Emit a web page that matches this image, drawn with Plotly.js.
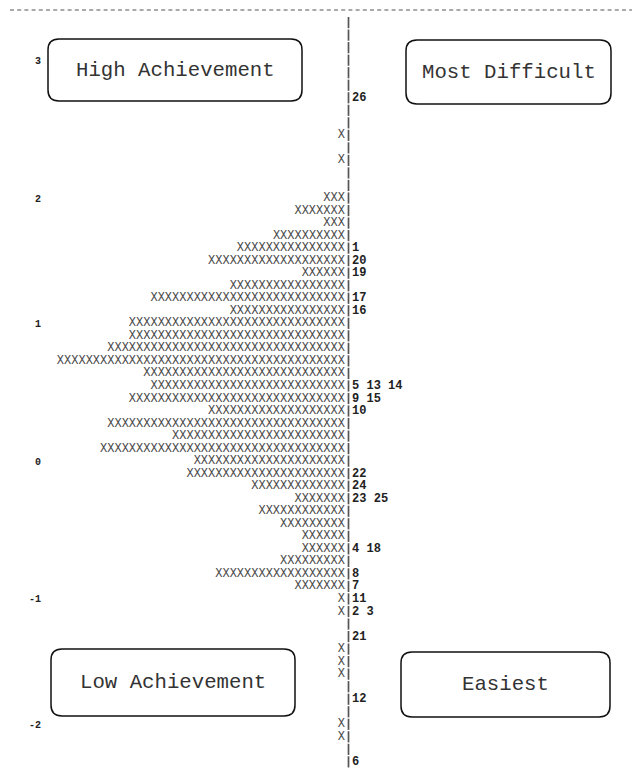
<!DOCTYPE html>
<html><head><meta charset="utf-8">
<script src="https://cdn.plot.ly/plotly-3.0.1.min.js"></script>
<style>html,body{margin:0;padding:0;background:#fff;}#chart{width:632px;height:776px;}</style>
</head><body><div id="chart"></div>
<script>
// Wright map rows, from the top row (0) to the bottom row (59)
const personCounts = [0,0,0,0,0,0,0,0,0,1, 0,1,0,0,3,7,3,10,15,19, 6,16,27,16,30,30,33,40,28,27, 30,19,33,24,34,21,22,13,7,12, 9,6,6,9,18,7,1,1,0,0, 1,1,1,0,0,0,1,1,0,0];
const itemLabels = ['','','','','','','26','','','', '','','','','','','','','1','20', '19','','17','16','','','','','','5 13 14', '9 15','10','','','','','22','24','23 25','', '','','4 18','','8','7','11','2 3','','21', '','','','','12','','','','','6'];
// logit scale labels and the rows they sit on
const scaleLabels = ['3','2','1','0','-1','-2'];
const scaleRows = [3,14,24,35,46,56];
// quadrant captions
const quadrantLabels = ['High Achievement','Most Difficult','Low Achievement','Easiest'];

const rows = personCounts.map((_, i) => i);
const CH = 7.2, BAR_PX = 348.5, ROW0 = 22.6, ROWH = 12.53, L = 42, W = 632, H = 776;
const xc = p => (p - BAR_PX) / CH;
const yr = p => (p - ROW0) / ROWH;
const mono = 'Liberation Mono, Courier New, monospace';

const persons = {
  type: 'scatter', mode: 'text', x: rows.map(() => -0.5), y: rows,
  text: personCounts.map(n => 'X'.repeat(n)), textposition: 'middle left',
  textfont: {family: mono, size: 12, color: '#4a4a4a'}, hoverinfo: 'skip', cliponaxis: false
};
const divider = {
  type: 'scatter', mode: 'markers', x: rows.map(() => 0), y: rows,
  marker: {symbol: 'line-ns-open', size: 8, color: '#555', line: {color: '#555', width: 1.7}},
  hoverinfo: 'skip', cliponaxis: false
};
const items = {
  type: 'scatter', mode: 'text', x: rows.map(() => 0.5), y: rows,
  text: itemLabels, textposition: 'middle right',
  textfont: {family: mono, size: 12, color: '#222', weight: 'bold'}, hoverinfo: 'skip', cliponaxis: false
};

function rr(x0, y0, x1, y1, r) {
  const P = (x, y) => xc(x).toFixed(3) + ',' + yr(y).toFixed(3);
  return 'M' + P(x0 + r, y0) + ' L' + P(x1 - r, y0) + ' Q' + P(x1, y0) + ' ' + P(x1, y0 + r) +
    ' L' + P(x1, y1 - r) + ' Q' + P(x1, y1) + ' ' + P(x1 - r, y1) +
    ' L' + P(x0 + r, y1) + ' Q' + P(x0, y1) + ' ' + P(x0, y1 - r) +
    ' L' + P(x0, y0 + r) + ' Q' + P(x0, y0) + ' ' + P(x0 + r, y0) + ' Z';
}
const boxes = [[48,39,302,101],[406,40,611,104],[51,649,295,716],[401,652,610,717]];
const shapes = boxes.map(b => ({type: 'path', xref: 'x', yref: 'y', path: rr(b[0], b[1], b[2], b[3], 11),
  line: {color: '#111', width: 1.5}, fillcolor: 'rgba(0,0,0,0)'}));
// dashed separator across the top (paper coordinates so it can run into the left margin)
shapes.push({type: 'line', xref: 'paper', yref: 'paper',
  x0: (10 - L) / (W - L), x1: (640 - L) / (W - L), y0: 1 - 10 / H, y1: 1 - 10 / H,
  line: {color: '#555', width: 1.2, dash: '4px,3.2px'}});
const annotations = boxes.map((b, i) => ({
  xref: 'x', yref: 'y', x: xc((b[0] + b[2]) / 2), y: yr((b[1] + b[3]) / 2), text: quadrantLabels[i],
  showarrow: false, font: {family: mono, size: 20.7, color: '#333'}, xanchor: 'center', yanchor: 'middle'
}));

const layout = {
  width: W, height: H, margin: {l: L, r: 0, t: 0, b: 0},
  paper_bgcolor: '#fff', plot_bgcolor: '#fff', showlegend: false,
  xaxis: {range: [xc(L), xc(W)], visible: false, fixedrange: true},
  yaxis: {range: [yr(H), yr(0)], tickvals: scaleRows, ticktext: scaleLabels, ticks: '',
    showgrid: false, zeroline: false, showline: false, fixedrange: true,
    tickfont: {family: mono, size: 10, color: '#222', weight: 'bold'}},
  shapes: shapes, annotations: annotations
};
Plotly.newPlot('chart', [persons, divider, items], layout, {staticPlot: true, displayModeBar: false});
</script></body></html>
